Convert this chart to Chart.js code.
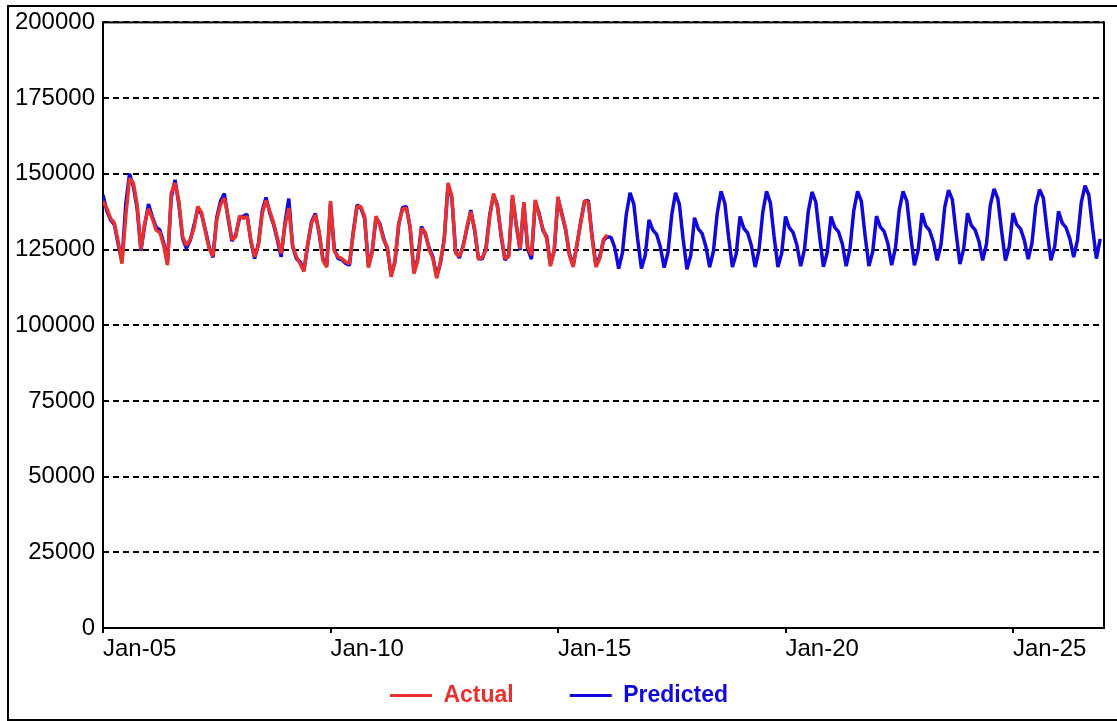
<!DOCTYPE html>
<html>
<head>
<meta charset="utf-8">
<script src="https://cdn.jsdelivr.net/npm/chart.js@4.4.1/dist/chart.umd.min.js"></script>
<style>
  html, body { margin: 0; padding: 0; background: #fff; overflow: hidden; }
  #wrap { position: relative; width: 1117px; height: 721px; }
  #wrap canvas { position: absolute; left: 0; top: 0; }
  #frame { position: absolute; left: 7px; top: 5px; width: 1200px; height: 712px;
           border: 2px solid #000; border-right: none; pointer-events: none; }
</style>
</head>
<body>
<div id="wrap">
  <canvas id="chart" width="1117" height="721"></canvas>
  <div id="frame"></div>
</div>
<script>
// Monthly series, Jan-05 .. Dec-26
const startYear = 2005;
const endYear = 2026;
const monthNames = ['Jan','Feb','Mar','Apr','May','Jun','Jul','Aug','Sep','Oct','Nov','Dec'];

// Recorded values, Jan-05 .. Feb-16
const actual = [
  141000, 138700, 135300, 133700, 127600, 120300, 136000, 148500, 147000, 139800, 125000, 133700, // 2005
  138500, 135300, 131400, 130600, 126400, 119800, 143700, 147000, 140900, 129200, 126400, 128300, // 2006
  132000, 139200, 137200, 130900, 125300, 122800, 134800, 139800, 142000, 135900, 128300, 129200, // 2007
  136100, 135300, 135900, 128100, 122600, 126400, 137000, 141200, 137600, 133700, 128700, 123700, // 2008
  133100, 138700, 126500, 122600, 120300, 117700, 127000, 133700, 136400, 130900, 121400, 119200, // 2009
  141000, 124500, 122600, 122000, 120900, 120300, 130300, 139200, 139200, 135900, 119000, 124000, // 2010
  136000, 133000, 128300, 125700, 116000, 121400, 133700, 138300, 138700, 132600, 117000, 121400, // 2011
  132000, 130600, 125000, 122000, 115500, 121000, 128100, 147000, 142600, 123700, 122800, 125900, // 2012
  132600, 137500, 132000, 121700, 122300, 124800, 135900, 143500, 139200, 130000, 122000, 122600, // 2013
  143000, 132600, 125300, 140600, 125900, 123100, 141400, 136400, 132000, 128700, 119500, 125000, // 2014
  142500, 136400, 132000, 123100, 119200, 127000, 133700, 141200, 140600, 128700, 119200, 122000, // 2015
  128400, 129800                                                                                  // 2016
];

// Model output: fitted values, then forecast from Mar-16
const predicted = [
  143000, 137800, 134800, 133200, 126800, 121200, 140000, 150000, 145800, 138600, 124600, 133000, // 2005
  140000, 135800, 132400, 131400, 127200, 120600, 142200, 148000, 140000, 128600, 125400, 128000, // 2006
  133000, 138600, 136600, 131500, 125800, 122400, 135600, 141000, 143500, 135200, 127800, 129800, // 2007
  135400, 136000, 136600, 127600, 122000, 127000, 137800, 142200, 137000, 133200, 128000, 122600, // 2008
  133800, 141800, 126000, 122000, 120900, 118200, 126600, 134200, 136900, 130400, 121900, 119800, // 2009
  140200, 125000, 122000, 121600, 120400, 119800, 130900, 139700, 138700, 135300, 119600, 124600, // 2010
  135400, 133600, 128800, 125200, 116600, 120900, 133200, 138800, 139200, 132000, 117600, 121900, // 2011
  132600, 130100, 125600, 122600, 116100, 120500, 128700, 146400, 142000, 124300, 122200, 126400, // 2012
  132000, 138000, 131400, 122300, 121800, 125400, 136500, 142900, 139800, 129400, 121500, 123200, // 2013
  142400, 133200, 124800, 140000, 125300, 121800, 140800, 137000, 131400, 129300, 120100, 124400, // 2014
  141900, 137000, 131500, 123700, 119800, 126400, 134300, 140700, 141200, 129300, 119800, 122600, // 2015
  128000, 129200, 129000, 125500, 118700, 124000, 136500, 143700, 140000, 128500, 118700, 123000, // 2016
  134800, 131500, 130000, 125800, 119000, 124000, 136500, 143700, 140000, 128500, 118500, 123000, // 2017
  135500, 131800, 130300, 126000, 119200, 124500, 137000, 144200, 140300, 129000, 119200, 123500, // 2018
  135900, 132000, 130500, 126300, 119200, 124800, 137200, 144200, 140500, 129200, 119200, 123800, // 2019
  135900, 132200, 130600, 126500, 119500, 125000, 137500, 144000, 140600, 129300, 119300, 124000, // 2020
  135900, 132300, 130800, 126800, 119500, 125200, 137800, 144200, 141000, 129500, 119500, 124300, // 2021
  136000, 132500, 131000, 127000, 119800, 125500, 138000, 144200, 141000, 129800, 119800, 124800, // 2022
  137000, 132800, 131300, 127500, 121400, 126500, 139000, 144600, 141500, 130500, 120200, 125300, // 2023
  137000, 133000, 131500, 127800, 121400, 126800, 139500, 145000, 141800, 131000, 121400, 125800, // 2024
  137000, 133200, 131800, 128000, 121800, 127000, 139500, 144800, 142000, 131200, 121400, 126000, // 2025
  137600, 133700, 132200, 128500, 122500, 128000, 140500, 146100, 143000, 132000, 122000, 128500  // 2026
];

// Month labels such as "Jan-05"
const months = [];
for (let y = startYear; y <= endYear; y++) {
  for (let m = 0; m < 12; m++) {
    months.push(monthNames[m] + '-' + String(y % 100).padStart(2, '0'));
  }
}
const yTicks = [0, 25000, 50000, 75000, 100000, 125000, 150000, 175000, 200000];
const labelStep = 60; // one axis label every five years

const RED = '#E8302E';
const BLUE = '#1208DC';
const FONT = "'Liberation Sans', Arial, sans-serif";

const toPoints = arr => arr.map((v, i) => ({ x: i, y: v }));

// Solid box round the plotting area
const plotFrame = {
  id: 'plotFrame',
  beforeDatasetsDraw(chart) {
    const { ctx, chartArea: a } = chart;
    ctx.save();
    ctx.setLineDash([]);
    ctx.strokeStyle = '#000';
    ctx.lineWidth = 2;
    ctx.strokeRect(a.left, a.top, a.right - a.left, a.bottom - a.top);
    ctx.restore();
  }
};

new Chart(document.getElementById('chart'), {
  type: 'line',
  data: {
    datasets: [
      {
        label: 'Actual',
        data: toPoints(actual),
        borderColor: RED,
        backgroundColor: RED,
        borderWidth: 3.5,
        borderJoinStyle: 'bevel',
        pointRadius: 0,
        tension: 0
      },
      {
        label: 'Predicted',
        data: toPoints(predicted),
        borderColor: BLUE,
        backgroundColor: BLUE,
        borderWidth: 3.5,
        borderJoinStyle: 'bevel',
        pointRadius: 0,
        tension: 0
      }
    ]
  },
  options: {
    responsive: false,
    animation: false,
    devicePixelRatio: 1,
    layout: { padding: { left: 14, top: 22, right: 13, bottom: 4 } },
    plugins: {
      tooltip: { enabled: false },
      legend: {
        position: 'bottom',
        labels: {
          boxWidth: 42,
          boxHeight: 3,
          padding: 56,
          font: { family: FONT, size: 23, weight: 'bold' },
          generateLabels(chart) {
            const items = Chart.defaults.plugins.legend.labels.generateLabels(chart);
            items.forEach(it => {
              it.fillStyle = it.strokeStyle;
              it.fontColor = it.strokeStyle;
              it.lineWidth = 0;
            });
            return items;
          }
        }
      }
    },
    scales: {
      x: {
        type: 'linear',
        min: 0,
        max: months.length,
        // axis box kept flat; the labels sit in the space above the legend
        afterFit(scale) { scale.height = 0; },
        border: { display: false },
        grid: {
          drawOnChartArea: false,
          drawTicks: true,
          tickLength: 5,
          color: '#000',
          lineWidth: 2
        },
        ticks: {
          stepSize: labelStep,
          includeBounds: false,
          autoSkip: false,
          maxRotation: 0,
          align: 'start',
          mirror: true,
          padding: -36,
          color: '#000',
          font: { family: FONT, size: 24 },
          callback: v => months[v] ?? ''
        }
      },
      y: {
        min: 0,
        max: 200000,
        afterFit(scale) { scale.width = 89; },
        afterBuildTicks(scale) { scale.ticks = yTicks.map(v => ({ value: v })); },
        border: { display: false, dash: [6, 4] },
        grid: {
          drawTicks: false,
          color: '#000',
          lineWidth: 2
        },
        ticks: {
          padding: 8,
          color: '#000',
          font: { family: FONT, size: 24 },
          callback: v => String(v)
        }
      }
    }
  },
  plugins: [plotFrame]
});
</script>
</body>
</html>
